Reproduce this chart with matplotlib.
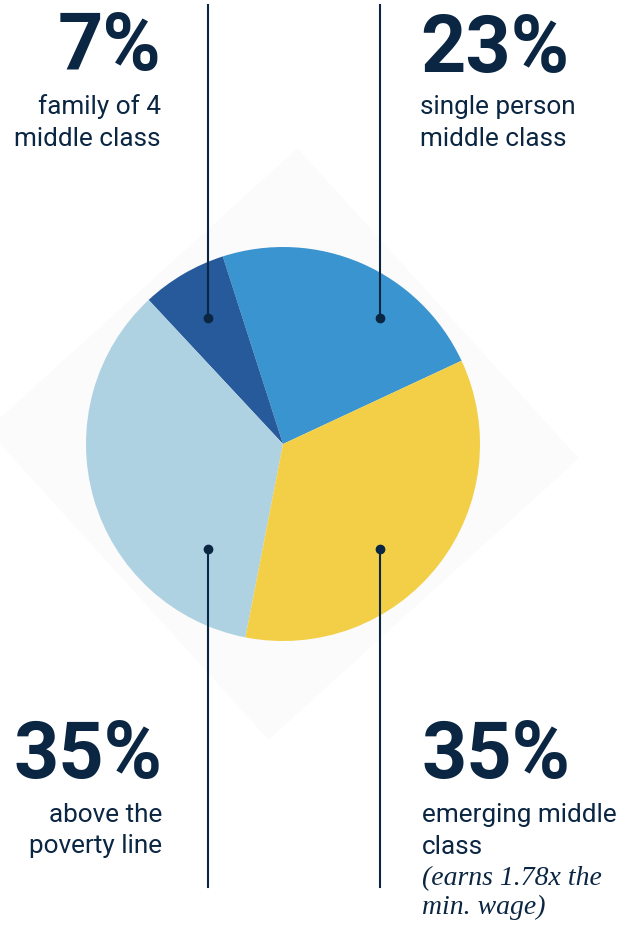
import numpy as np
import matplotlib.pyplot as plt
from matplotlib.patches import Polygon

# slices, counter-clockwise from the right-hand edge of "single person"
categories = ['single person\nmiddle class', 'family of 4\nmiddle class',
              'above the\npoverty line', 'emerging middle\nclass']
shares = [23, 7, 35, 35]
slice_colors = ['#3a94cf', '#275a9a', '#afd2e3', '#f2cf47']
notes = ['', '', '', '(earns 1.78x the\nmin. wage)']

navy = '#0b2642'
W, H = 636, 925

fig = plt.figure(figsize=(W / 100, H / 100), dpi=100)
ax = fig.add_axes([0, 0, 1, 1])

# faint diamond behind the pie
cx, cy = 283, H - 444
half = 296
rot = np.deg2rad(-2.8)
ang = np.deg2rad([90, 0, -90, 180]) + rot
diamond = Polygon(np.c_[cx + half * np.cos(ang), cy + half * np.sin(ang)],
                  closed=True, facecolor='#fbfbfb', edgecolor='none', zorder=0)
ax.add_patch(diamond)

ax.pie(shares, colors=slice_colors, startangle=25, counterclock=True,
       center=(cx, cy), radius=197, wedgeprops=dict(linewidth=0))

# leader lines: x position, dot y, line end y (pixels from top)
leaders = [(380, 318, 5), (208, 318, 5), (208, 549, 887), (380, 549, 887)]
for x, ydot, yend in leaders:
    ax.plot([x, x], [H - ydot, H - yend], color=navy, lw=1.5, zorder=3)
    ax.plot(x, H - ydot, 'o', color=navy, ms=6, zorder=4)

# label blocks: anchor x, alignment, baseline of big number, first text line
blocks = [(420, 'left', 72, 114), (161, 'right', 70, 114),
          (162, 'right', 778, 822), (422, 'left', 778, 822)]
for (x, ha, ybig, ytxt), cat, v, note in zip(blocks, categories, shares, notes):
    ax.text(x, H - ybig, f'{v}%', ha=ha, va='baseline', color=navy,
            fontsize=57, fontweight='bold', family='Roboto')
    lines = cat.split('\n')
    for i, ln in enumerate(lines):
        ax.text(x, H - (ytxt + 31.5 * i), ln, ha=ha, va='baseline', color=navy,
                fontsize=18.8, family='Roboto')
    if note:
        for j, ln in enumerate(note.split('\n')):
            ax.text(x, H - (ytxt + 31.5 * len(lines) + 29 * j), ln, ha=ha,
                    va='baseline', color=navy, fontsize=20,
                    family='Liberation Serif', style='italic')

ax.set_xlim(0, W)
ax.set_ylim(0, H)
ax.set_aspect('equal')
ax.axis('off')

fig.savefig('out.png', dpi=100, facecolor='white')
